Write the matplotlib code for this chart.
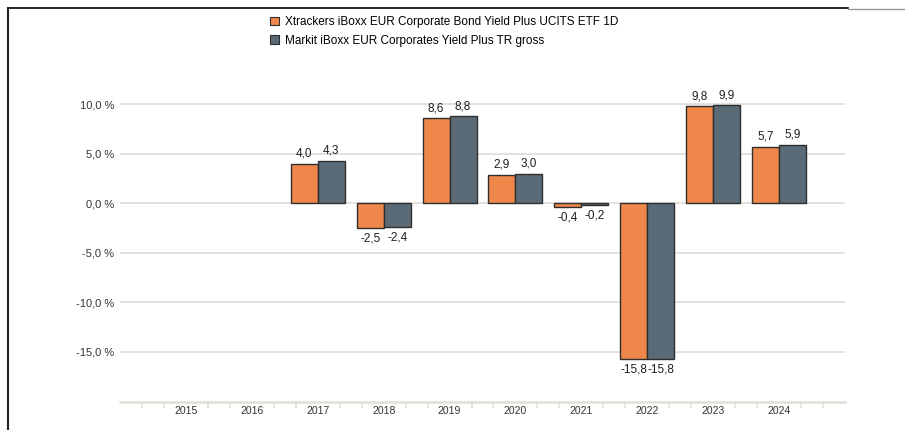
import numpy as np
import matplotlib
matplotlib.use("Agg")
import matplotlib.pyplot as plt
from matplotlib.patches import Patch
from matplotlib.lines import Line2D

plt.rcParams['font.family'] = ['Liberation Sans', 'DejaVu Sans']

## Chart data (annual performance in %)
years = ["2015", "2016", "2017", "2018", "2019", "2020", "2021", "2022", "2023", "2024"]
fund_name = "Xtrackers iBoxx EUR Corporate Bond Yield Plus UCITS ETF 1D"
index_name = "Markit iBoxx EUR Corporates Yield Plus TR gross"
fund = [np.nan, np.nan, 4.0, -2.5, 8.6, 2.9, -0.4, -15.8, 9.8, 5.7]
index = [np.nan, np.nan, 4.3, -2.4, 8.8, 3.0, -0.2, -15.8, 9.9, 5.9]

orange = "#EF874B"
slate = "#5A6A76"
edge = "#2E2E2E"
grid_col = "#E2DED8"
text_col = "#333333"

fig = plt.figure(figsize=(9.05, 4.3), dpi=100)
# axes: 0 % sits at y=203 px, 9.88 px per percent
ax = fig.add_axes([120/905, 28/430, 725/905, 347/430])

x = np.arange(len(years))
w = 0.41

b1 = ax.bar(x - w/2, fund, w, color=orange, edgecolor=edge, linewidth=1.0, zorder=3)
b2 = ax.bar(x + w/2, index, w, color=slate, edgecolor=edge, linewidth=1.0, zorder=3)

def fmt(v):
    return ("%.1f" % v).replace(".", ",")

# value labels above / below the bars
for bars, vals in ((b1, fund), (b2, index)):
    for rect, v in zip(bars, vals):
        if np.isnan(v):
            continue
        cx = rect.get_x() + rect.get_width()/2
        if v >= 0:
            ax.annotate(fmt(v), (cx, v), xytext=(0, 3), textcoords="offset points",
                        ha="center", va="bottom", fontsize=8.5, color="#1E1E1E")
        else:
            ax.annotate(fmt(v), (cx, v), xytext=(0, -3), textcoords="offset points",
                        ha="center", va="top", fontsize=8.5, color="#1E1E1E")

ax.set_xlim(-1, 10)
ax.set_ylim(-20.1, 15)

yt = [-15, -10, -5, 0, 5, 10]
ax.set_yticks(yt)
ax.set_yticklabels([fmt(v) + " %" for v in yt], fontsize=8, color=text_col)
for v in yt:
    ax.axhline(v, color=grid_col, linewidth=1.3, zorder=1)

ax.set_xticks(x)
ax.set_xticklabels(years, fontsize=7.5, color=text_col)
minor = [m/3 for m in range(-3, 31) if m % 3 != 0]
ax.set_xticks(minor, minor=True)
ax.tick_params(axis="x", which="major", length=0, pad=3)
ax.tick_params(axis="x", which="minor", length=4, width=1.2, color=grid_col)
ax.tick_params(axis="y", length=0, pad=4)

for s in ("top", "right", "left"):
    ax.spines[s].set_visible(False)
ax.spines["bottom"].set_color(grid_col)
ax.spines["bottom"].set_linewidth(1.8)
ax.set_facecolor("none")

# legend at the top
handles = [Patch(facecolor=orange, edgecolor=edge, linewidth=0.8, label=fund_name),
           Patch(facecolor=slate, edgecolor=edge, linewidth=0.8, label=index_name)]
fig.legend(handles=handles, loc="upper left", bbox_to_anchor=(262/905, 1 - 8/430),
           frameon=False, fontsize=8.5, handlelength=0.75, handleheight=0.75,
           handletextpad=0.5, labelspacing=0.55, borderpad=0.2)

# outer frame lines (top and left)
fig.add_artist(Line2D([8/905, 848/905], [1 - 8/430, 1 - 8/430], color="black", linewidth=1.2))
fig.add_artist(Line2D([848/905, 1.0], [1 - 9/430, 1 - 9/430], color="#999999", linewidth=1.0))
fig.add_artist(Line2D([8/905, 8/905], [0, 1 - 8/430], color="#222222", linewidth=1.5))

fig.savefig("out.png", dpi=100)
